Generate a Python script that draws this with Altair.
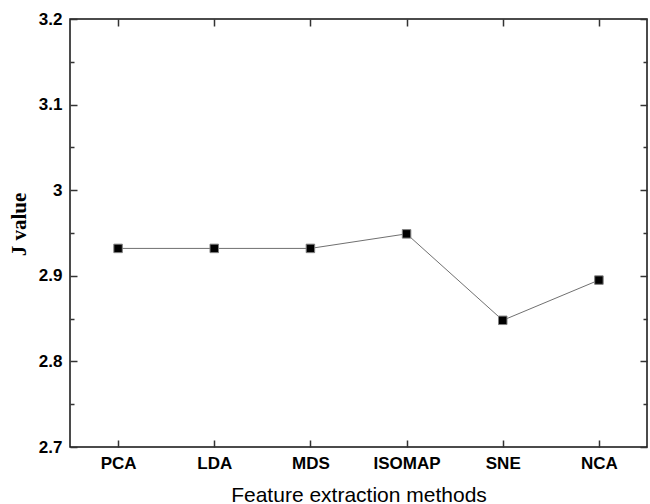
import altair as alt
import pandas as pd

methods = ["PCA", "LDA", "MDS", "ISOMAP", "SNE", "NCA"]
j_values = [2.932, 2.932, 2.932, 2.949, 2.848, 2.895]
y_ticks = [2.7, 2.75, 2.8, 2.85, 2.9, 2.95, 3.0, 3.05, 3.1, 3.15, 3.2]
y_labels = [2.7, 2.8, 2.9, 3.0, 3.1, 3.2]

df = pd.DataFrame({"method": methods, "j": j_values})

W, H = 577, 428
TICK = "#333333"
major_test = "abs(round(datum.value * 10) - datum.value * 10) < 0.01"

xscale = alt.Scale(domain=methods, type="point", padding=0.5)
yscale = alt.Scale(domain=[2.7, 3.2], zero=False, nice=False)

base = alt.Chart(df)

# Layer 1: line, with label axes
line = base.mark_line(color="#707070", strokeWidth=1).encode(
    x=alt.X("method:N", sort=methods, scale=xscale,
            axis=alt.Axis(title="Feature extraction methods", orient="bottom",
                          domain=False, ticks=False, tickSize=0, grid=False,
                          labelAngle=0, labelFont="Liberation Sans", labelFontWeight="bold",
                          labelFontSize=17, labelColor="black", labelBaseline="alphabetic",
                          labelPadding=21.5,
                          titleFont="Liberation Sans", titleFontWeight="normal",
                          titleFontSize=21, titleColor="black",
                          titleBaseline="alphabetic", titleY=54)),
    y=alt.Y("j:Q", scale=yscale,
            axis=alt.Axis(title="J value", orient="left", values=y_labels, format="~g",
                          domain=False, ticks=False, tickSize=0, grid=False,
                          labelFont="Liberation Sans", labelFontWeight="bold",
                          labelFontSize=17, labelColor="black", labelPadding=8,
                          titleFont="Liberation Serif", titleFontWeight="bold",
                          titleFontSize=21, titleColor="black", titleAngle=-90,
                          titleBaseline="alphabetic", titleAlign="center",
                          titleX=-45, titleY=205)),
)

# Layer 2: points, with inward ticks on bottom and left
points = base.mark_point(shape="square", filled=True, fill="black", stroke="#808080",
                         strokeWidth=1, size=72, opacity=1).encode(
    x=alt.X("method:N", sort=methods, scale=xscale,
            axis=alt.Axis(title=None, orient="top", offset=-H, labels=False,
                          domain=False, grid=False, tickSize=7, tickWidth=1.5,
                          tickColor=TICK)),
    y=alt.Y("j:Q", scale=yscale,
            axis=alt.Axis(title=None, orient="right", offset=-W, labels=False,
                          values=y_ticks, domain=False, grid=False,
                          tickSize={"condition": {"test": major_test, "value": 7}, "value": 4},
                          tickWidth=1.5, tickColor=TICK)),
)

# Layer 3: invisible copy, with inward ticks on top and right
frame = base.mark_point(opacity=0).encode(
    x=alt.X("method:N", sort=methods, scale=xscale,
            axis=alt.Axis(title=None, orient="bottom", offset=-H, labels=False,
                          domain=False, grid=False, tickSize=7, tickWidth=1.5,
                          tickColor=TICK)),
    y=alt.Y("j:Q", scale=yscale,
            axis=alt.Axis(title=None, orient="left", offset=-W, labels=False,
                          values=y_ticks, domain=False, grid=False,
                          tickSize={"condition": {"test": major_test, "value": 7}, "value": 4},
                          tickWidth=1.5, tickColor=TICK)),
)

chart = alt.layer(line, points, frame).resolve_axis(
    x="independent", y="independent"
).properties(
    width=W, height=H,
    autosize=alt.AutoSizeParams(type="none"),
    padding={"left": 70, "top": 19, "right": 3, "bottom": 57},
    background="white",
).configure_view(stroke="#111111", strokeWidth=1.5)

chart.save("out.html", embed_options={"renderer": "svg", "actions": False})
